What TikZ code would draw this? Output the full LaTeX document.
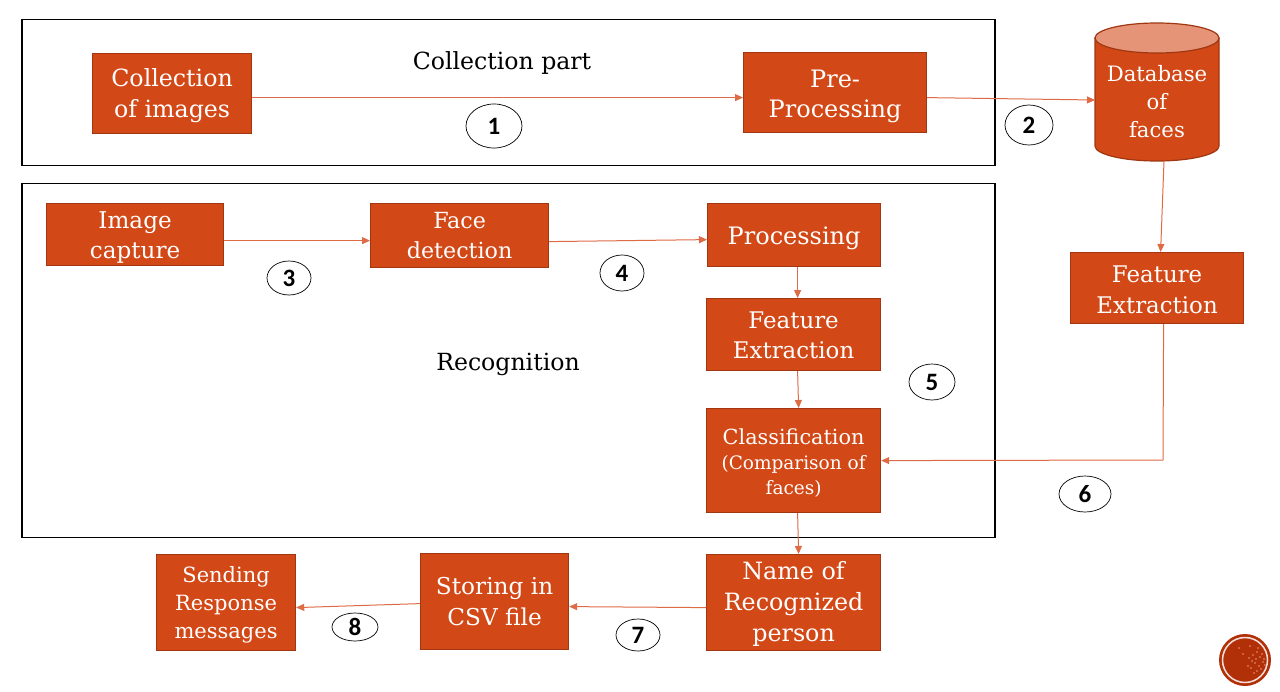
\documentclass[tikz,border=0pt]{standalone}
\usepackage{fontspec}
\setmainfont{DejaVu Serif}
\newfontfamily\numfont{Carlito}
\usetikzlibrary{arrows.meta,shapes.geometric,calc}
\definecolor{boxfill}{HTML}{D34817}
\definecolor{boxedge}{HTML}{A03711}
\definecolor{linkc}{HTML}{DE6B45}
\definecolor{capc}{HTML}{E59478}
\definecolor{logoc}{HTML}{B23008}
\tikzset{
  x=1pt,y=-1pt,
  fbox/.style={draw=boxedge,fill=boxfill,line width=1.2pt,inner sep=0pt},
  ftext/.style 2 args={text=white,align=center,inner sep=0pt,font=\fontsize{#1}{#2}\selectfont},
  link/.style={draw=linkc,line width=1pt,-{Triangle[length=8pt,width=7pt]}},
  plainlink/.style={draw=linkc,line width=1pt},
  framebox/.style={draw=black,line width=1.5pt},
  numtag/.style={draw=black,line width=0.7pt,fill=white,ellipse,inner sep=0pt,font=\numfont\bfseries\fontsize{25}{25}\selectfont},
  captext/.style={font=\fontsize{23.6}{26}\selectfont,text=black,inner sep=0pt}
}
% x1 y1 x2 y2 name size leading ydown text
\newcommand{\bx}[9]{\node[fbox,minimum width=#3-#1,minimum height=#4-#2,anchor=north west] (#5) at (#1,#2) {};
  \node[ftext={#6}{#7},yshift=-#8pt] (#5t) at (#5.center) {#9};}
\begin{document}
\begin{tikzpicture}
\useasboundingbox (0,0) rectangle (1280,691);
\fill[white] (0,0) rectangle (1280,691);
\node[framebox,minimum width=973pt,minimum height=146pt,anchor=north west,inner sep=0pt] (fa) at (21.2,18.6) {};
\node[framebox,minimum width=973pt,minimum height=354pt,anchor=north west,inner sep=0pt] (fb) at (21.2,182.6) {};
\node[captext] (t1) at (502,63) {Collection part};
\node[captext] (t2) at (508,364) {Recognition};
\bx{92}{53}{251}{133}{col}{23.7}{31}{2}{Collection\\of images}
\bx{743}{52}{926}{132}{pre}{24}{30}{3.5}{Pre-\\Processing}
\bx{46}{203}{223}{265}{cap1}{23.1}{30}{3}{Image\\capture}
\bx{370}{203}{548}{267}{fd}{22.2}{30}{0}{Face\\detection}
\bx{707}{203}{880}{266}{proc}{24}{30}{3}{Processing}
\bx{706}{298}{880}{370}{fe}{22.9}{30.5}{0.5}{Feature\\Extraction}
\bx{706}{408}{880}{512}{cl}{20.8}{25}{2.5}{Classification\\{\fontsize{18.5}{25}\selectfont (Comparison of}\\{\fontsize{18.5}{25}\selectfont faces)}}
\bx{706}{554}{880}{650}{nm}{23.8}{31}{1.5}{Name of\\Recognized\\person}
\bx{420}{553}{568}{649}{st}{23.2}{31}{0}{Storing in\\CSV file}
\bx{156}{554}{295}{650}{se}{21}{28}{2.5}{Sending\\Response\\messages}
\bx{1070}{252}{1243}{323}{fe2}{22.9}{31}{1.5}{Feature\\Extraction}
% database
\filldraw[fill=boxfill,draw=boxedge,line width=1.2pt] (1095,38) -- (1095,146) arc[start angle=180,end angle=360,x radius=62pt,y radius=15pt] -- (1219,38) -- cycle;
\filldraw[fill=capc,draw=boxedge,line width=1.2pt] (1157,38) ellipse[x radius=62pt,y radius=15pt];
\node[ftext={21.2}{28}] (dbt) at (1157,102) {Database\\of\\faces};
\coordinate (dbin) at (1095,100);
\coordinate (dbout) at (1164,161);
\coordinate (turn) at (1163,460);
% connectors
\draw[link] ([yshift=-4pt]col.east) -- ([yshift=-5pt]pre.west);
\draw[link] ([yshift=-5pt]pre.east) -- (dbin);
\draw[link] (dbout) -- ([xshift=3.5pt]fe2.north);
\draw[link] ([yshift=-6pt]cap1.east) -- ([yshift=-5pt]fd.west);
\draw[link] ([yshift=-6pt]fd.east) -- ([yshift=-4.5pt]proc.west);
\draw[link] ([xshift=3.5pt]proc.south) -- ([xshift=4pt]fe.north);
\draw[link] ([xshift=4pt]fe.south) -- ([xshift=5pt]cl.north);
\draw[plainlink] ([xshift=6.5pt]fe2.south) -- (turn);
\draw[link] (turn) -- (cl.east);
\draw[link] ([xshift=4pt]cl.south) -- ([xshift=5pt]nm.north);
\draw[link] ([yshift=-5pt]nm.west) -- ([yshift=-5pt]st.east);
\draw[link] ([yshift=-2pt]st.west) -- ([yshift=-5pt]se.east);
% numbers
\node[numtag,minimum width=56pt,minimum height=44pt] (n1) at (494,126) {1};
\node[numtag,minimum width=48pt,minimum height=40pt] (n2) at (1029,125) {2};
\node[numtag,minimum width=44pt,minimum height=34pt] (n3) at (289,278) {3};
\node[numtag,minimum width=44pt,minimum height=36pt] (n4) at (622,273) {4};
\node[numtag,minimum width=46pt,minimum height=36pt] (n5) at (932,382) {5};
\node[numtag,minimum width=52pt,minimum height=36pt] (n6) at (1085,494) {6};
\node[numtag,minimum width=44pt,minimum height=32pt] (n7) at (638,635) {7};
\node[numtag,minimum width=46pt,minimum height=28pt] (n8) at (355,627) {8};
% logo
\fill[logoc] (1245,660) circle (26);
\draw[white!85!logoc,line width=1.5pt] (1245,660) circle (22.5);
\foreach \a/\b in {12/-8,15/-3,18/2,10/3,14/6,8/-5,6/8,17/-6,12/11,4/-2,16/9,9/13,19/-1,13/-12,7/1,11/-1,20/5,3/6,-6/-12,-2/-6,5/-14}
  \fill[capc] (1245+\a,660+\b) circle (0.9);
\end{tikzpicture}
\end{document}
